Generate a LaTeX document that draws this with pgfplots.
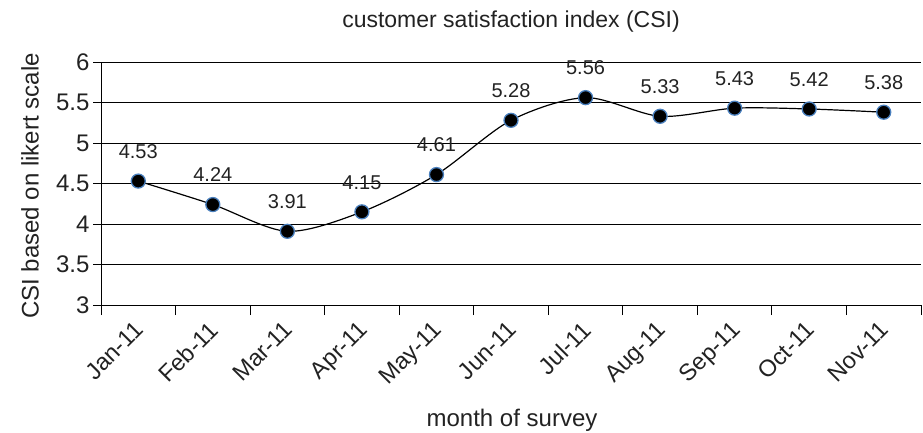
\documentclass[border=0pt]{standalone}
\usepackage{fontspec}
\setmainfont{Liberation Sans}
\usepackage{pgfplots}
\pgfplotsset{compat=1.18}
\definecolor{mkedge}{HTML}{4A80BE}
\definecolor{txt}{HTML}{222222}
\begin{document}
\begin{tikzpicture}[x=1pt,y=1pt]
\useasboundingbox (0pt,0pt) rectangle (923pt,432pt);
\begin{axis}[
  at={(101pt,127pt)}, anchor=south west,
  scale only axis, width=820pt, height=243pt,
  xmin=-0.5, xmax=10.5, ymin=3, ymax=6,
  ytick={3,3.5,...,6},
  yticklabels={3,3.5,4,4.5,5,5.5,6},
  xtick={0,...,10},
  xticklabels={Jan-11,Feb-11,Mar-11,Apr-11,May-11,Jun-11,Jul-11,Aug-11,Sep-11,Oct-11,Nov-11},
  minor xtick={-0.5,0.5,...,10.5},
  axis x line*=bottom, axis y line*=left,
  axis line style={black, line width=0.9pt},
  x tick label style={xshift=-5pt, yshift=-2pt, rotate=45, anchor=north east, font=\fontsize{23.5}{23.5}\selectfont, text=txt},
  y tick label style={font=\fontsize{24}{24}\selectfont, text=txt},
  /pgf/number format/assume math mode=true,
  major x tick style={draw=none},
  minor x tick style={black, line width=0.9pt},
  minor tick length=10pt,
  major tick length=8pt,
  y tick style={black, line width=0.9pt},
  tick align=outside,
  ymajorgrids, grid style={black, line width=0.9pt},
  clip=false,
  nodes near coords,
  point meta=explicit symbolic,
  every node near coord/.style={anchor=south, font=\fontsize{20}{20}\selectfont, text=txt, inner sep=0pt, yshift=22pt},
]
\addplot[black, line width=1.2pt, smooth, tension=0.5, mark=*, mark size=7pt,
  mark options={fill=black, draw=mkedge, line width=1.3pt}]
  table[meta=lab] {
x y lab
0 4.53 4.53
1 4.24 4.24
2 3.91 3.91
3 4.15 4.15
4 4.61 4.61
5 5.28 5.28
6 5.56 5.56
7 5.33 5.33
8 5.43 5.43
9 5.42 5.42
10 5.38 5.38
};
\end{axis}
\node[font=\fontsize{23}{23}\selectfont, text=txt] at (511pt,410pt) {customer satisfaction index (CSI)};
\node[font=\fontsize{24}{24}\selectfont, text=txt, rotate=90] at (30pt,246pt) {CSI based on likert scale};
\node[font=\fontsize{24}{24}\selectfont, text=txt] at (512pt,12pt) {month of survey};
\end{tikzpicture}
\end{document}
